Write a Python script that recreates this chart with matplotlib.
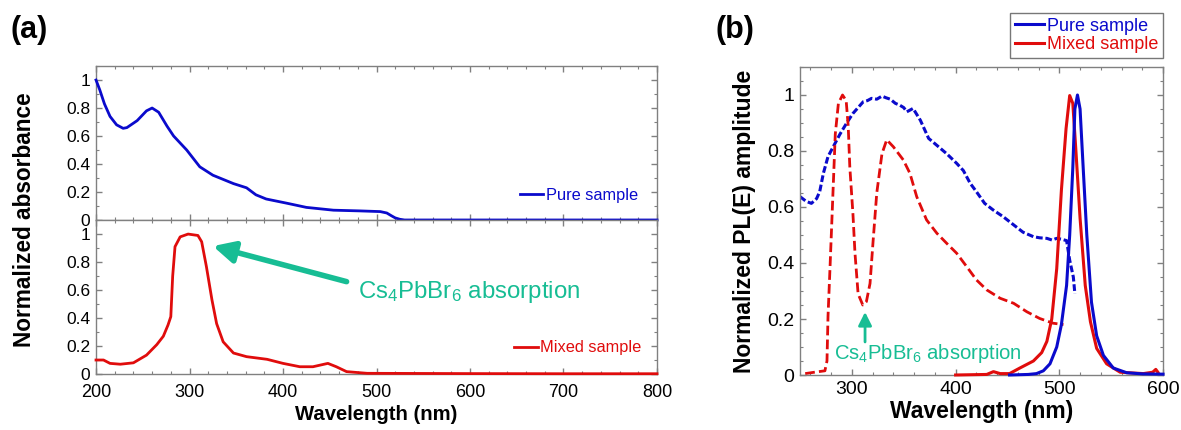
import matplotlib
matplotlib.use("Agg")
import matplotlib.pyplot as plt
from matplotlib.ticker import MultipleLocator

plt.rcParams['font.family'] = ['Liberation Sans', 'DejaVu Sans']
plt.rcParams['mathtext.default'] = 'regular'

BLUE = '#0a0acc'
RED = '#e00c0c'
GREEN = '#17bd94'
GRAY = '#808080'

# (a) absorbance, pure sample
abs_pure_nm = [200, 204, 209, 215, 222, 229, 233, 244, 254, 260, 267, 276, 283, 297,
               311, 325, 347, 361, 371, 382, 404, 425, 454, 482, 504, 511, 516, 520,
               525, 530, 600, 700, 800]
abs_pure = [1.0, 0.93, 0.83, 0.74, 0.68, 0.655, 0.66, 0.71, 0.78, 0.80, 0.77, 0.67, 0.60, 0.50,
            0.38, 0.32, 0.26, 0.23, 0.18, 0.15, 0.12, 0.09, 0.07, 0.065, 0.06, 0.05, 0.03, 0.015,
            0.005, 0.0, 0.0, 0.0, 0.0]

# (a) absorbance, mixed sample
abs_mix_nm = [200, 208, 215, 226, 240, 254, 265, 272, 277, 280, 282, 284.5, 290, 298.5,
              309, 313, 318, 324, 329, 336, 347, 361, 383, 400, 418, 432, 448, 457, 468,
              490, 600, 700, 800]
abs_mix = [0.10, 0.10, 0.076, 0.07, 0.08, 0.135, 0.21, 0.27, 0.35, 0.41, 0.70, 0.91, 0.98, 1.0,
           0.99, 0.945, 0.77, 0.53, 0.36, 0.23, 0.15, 0.124, 0.105, 0.076, 0.052, 0.052, 0.076,
           0.052, 0.017, 0.005, 0.003, 0.002, 0.002]

# (b) PLE, pure sample (dashed)
ple_pure_nm = [250, 256, 261, 266, 269, 272.5, 277, 282, 288.5, 295, 301, 306, 311, 315, 319,
               324, 329, 333, 337, 342, 346, 350, 353, 359, 366, 374, 382, 391.5, 401, 407.5,
               414, 420, 428, 436, 446, 456, 465, 475, 481, 488, 493, 497.5, 502, 507, 510,
               513.5, 515]
ple_pure = [0.637, 0.62, 0.613, 0.63, 0.655, 0.72, 0.78, 0.815, 0.86, 0.90, 0.934, 0.955, 0.976,
            0.98, 0.988, 0.985, 0.996, 0.99, 0.985, 0.97, 0.964, 0.955, 0.94, 0.952, 0.91, 0.845,
            0.82, 0.79, 0.756, 0.73, 0.685, 0.655, 0.613, 0.59, 0.565, 0.536, 0.51, 0.494, 0.49,
            0.488, 0.482, 0.488, 0.485, 0.48, 0.41, 0.35, 0.29]

# (b) PLE, mixed sample (dashed)
ple_mix_nm = [255, 264, 274, 276, 277, 279, 281.5, 284, 287, 291, 294.5, 296.5, 298, 301, 303,
              306, 310.5, 314, 317.5, 320.5, 324, 329, 333.6, 340, 349.6, 356, 362.5, 372, 382,
              391.5, 401, 410.7, 420, 430, 443, 456, 468.6, 481, 494, 504]
ple_mix = [0.005, 0.01, 0.015, 0.05, 0.21, 0.39, 0.625, 0.86, 0.97, 1.0, 0.98, 0.887, 0.744,
           0.577, 0.435, 0.29, 0.25, 0.262, 0.327, 0.48, 0.65, 0.79, 0.84, 0.815, 0.768, 0.72,
           0.637, 0.554, 0.506, 0.47, 0.435, 0.387, 0.34, 0.304, 0.274, 0.256, 0.226, 0.202,
           0.185, 0.18]

# (b) PL, pure sample (solid)
pl_pure_nm = [452, 470, 478, 484.6, 491, 497.5, 502, 507, 510, 513, 515, 517.5, 520, 523,
              526.5, 531, 536, 542.5, 552, 565, 580, 600]
pl_pure = [0.0, 0.002, 0.005, 0.015, 0.04, 0.1, 0.18, 0.32, 0.5, 0.74, 0.95, 1.0, 0.95, 0.74,
           0.50, 0.26, 0.14, 0.07, 0.025, 0.008, 0.004, 0.003]

# (b) PL, mixed sample (solid)
pl_mix_nm = [400, 430, 436.5, 443, 452, 462, 475, 483, 488, 492.7, 497.5, 502, 506.5, 510,
             513, 516, 520, 525, 530, 536, 545.6, 558.6, 581, 590, 593, 595]
pl_mix = [0.0, 0.002, 0.012, 0.005, 0.005, 0.025, 0.05, 0.08, 0.12, 0.2, 0.38, 0.66, 0.88, 0.998,
          0.97, 0.8, 0.56, 0.32, 0.19, 0.095, 0.04, 0.01, 0.005, 0.01, 0.02, 0.01]


def style_axes(ax, xminor, yminor, size):
    for s in ax.spines.values():
        s.set_color(GRAY)
        s.set_linewidth(1.0)
    ax.xaxis.set_minor_locator(MultipleLocator(xminor))
    ax.yaxis.set_minor_locator(MultipleLocator(yminor))
    ax.tick_params(which='both', direction='in', top=True, right=True, color=GRAY,
                   labelsize=size, pad=4)
    ax.tick_params(which='major', length=4.5, width=1)
    ax.tick_params(which='minor', length=2.5, width=0.8)
    ax.yaxis.set_major_formatter(plt.FuncFormatter(lambda v, p: f'{v:g}'))


fig = plt.figure(figsize=(11.81, 4.30), dpi=100)

ax_top = fig.add_axes([0.0813, 0.4884, 0.475, 0.358])
ax_bot = fig.add_axes([0.0813, 0.1302, 0.475, 0.358])
ax_b = fig.add_axes([0.6774, 0.1279, 0.3074, 0.7163])

ax_top.plot(abs_pure_nm, abs_pure, color=BLUE, lw=2.0, label='Pure sample',
            solid_joinstyle='round', clip_on=False, zorder=5)
ax_bot.plot(abs_mix_nm, abs_mix, color=RED, lw=2.0, label='Mixed sample',
            solid_joinstyle='round', clip_on=False, zorder=5)

for ax in (ax_top, ax_bot):
    ax.set_xlim(200, 800)
    ax.set_ylim(0, 1.1)
    ax.set_xticks([200, 300, 400, 500, 600, 700, 800])
    ax.set_yticks([0, 0.2, 0.4, 0.6, 0.8, 1])
    style_axes(ax, 20, 0.1, 12.5)
ax_top.tick_params(axis='x', labelbottom=False)
ax_bot.tick_params(axis='x', labelsize=13, pad=7)
ax_bot.set_xlabel('Wavelength (nm)', fontsize=14.6, fontweight='bold', labelpad=3)

ax_top.legend(loc='center right', bbox_to_anchor=(0.966, 0.162), frameon=False,
              fontsize=11.8, handlelength=1.45, handletextpad=0.15, borderpad=0,
              borderaxespad=0, labelcolor='linecolor')
ax_bot.legend(loc='center right', bbox_to_anchor=(0.972, 0.169), frameon=False,
              fontsize=11.8, handlelength=1.45, handletextpad=0.15, borderpad=0,
              borderaxespad=0, labelcolor='linecolor')

ax_bot.annotate('', xy=(325, 0.914), xytext=(468, 0.66),
                arrowprops=dict(arrowstyle='-|>', color=GREEN, lw=4, mutation_scale=32,
                                shrinkA=0, shrinkB=0))
ax_bot.text(480, 0.586, 'Cs$_4$PbBr$_6$ absorption', color=GREEN, fontsize=17.3,
            ha='left', va='center')

fig.text(25 / 1181, 1 - 220 / 430, 'Normalized absorbance', rotation=90, fontsize=16.3,
         fontweight='bold', ha='center', va='center')

# panel (b)
ax_b.plot(ple_pure_nm, ple_pure, color=BLUE, lw=2.2, linestyle=(0, (2.2, 0.9)))
ax_b.plot(ple_mix_nm, ple_mix, color=RED, lw=2.0, linestyle=(0, (3.5, 1.5)))
ax_b.plot(pl_pure_nm, pl_pure, color=BLUE, lw=2.2, label='Pure sample',
          solid_joinstyle='round', clip_on=False, zorder=5)
ax_b.plot(pl_mix_nm, pl_mix, color=RED, lw=2.2, label='Mixed sample',
          solid_joinstyle='round', clip_on=False, zorder=4)
ax_b.set_xlim(250, 600)
ax_b.set_ylim(0, 1.1)
ax_b.set_xticks([300, 400, 500, 600])
ax_b.set_yticks([0, 0.2, 0.4, 0.6, 0.8, 1])
style_axes(ax_b, 20, 0.05, 14)
ax_b.set_xlabel('Wavelength (nm)', fontsize=16.5, fontweight='bold', labelpad=2)
ax_b.set_ylabel('Normalized PL(E) amplitude', fontsize=16.5, fontweight='bold', labelpad=8)

ax_b.annotate('', xy=(312.7, 0.225), xytext=(312.7, 0.118),
              arrowprops=dict(arrowstyle='-|>', color=GREEN, lw=2, mutation_scale=20,
                              shrinkA=0, shrinkB=0))
ax_b.text(373, 0.078, 'Cs$_4$PbBr$_6$ absorption', color=GREEN, fontsize=14.6,
          ha='center', va='center')

leg = fig.legend(*ax_b.get_legend_handles_labels(), loc='upper right',
                 bbox_to_anchor=(1163 / 1181, 1 - 13 / 430), fontsize=13.0,
                 handlelength=1.6, handletextpad=0.2, borderpad=0.25, labelspacing=0.1,
                 borderaxespad=0, fancybox=False, labelcolor='linecolor')
leg.get_frame().set_edgecolor('#555555')
leg.get_frame().set_linewidth(1.0)

fig.text(10 / 1181, 1 - 30 / 430, '(a)', fontsize=22, fontweight='bold', ha='left', va='center')
fig.text(716 / 1181, 1 - 30 / 430, '(b)', fontsize=22, fontweight='bold', ha='left', va='center')

fig.savefig('out.png', dpi=100)
